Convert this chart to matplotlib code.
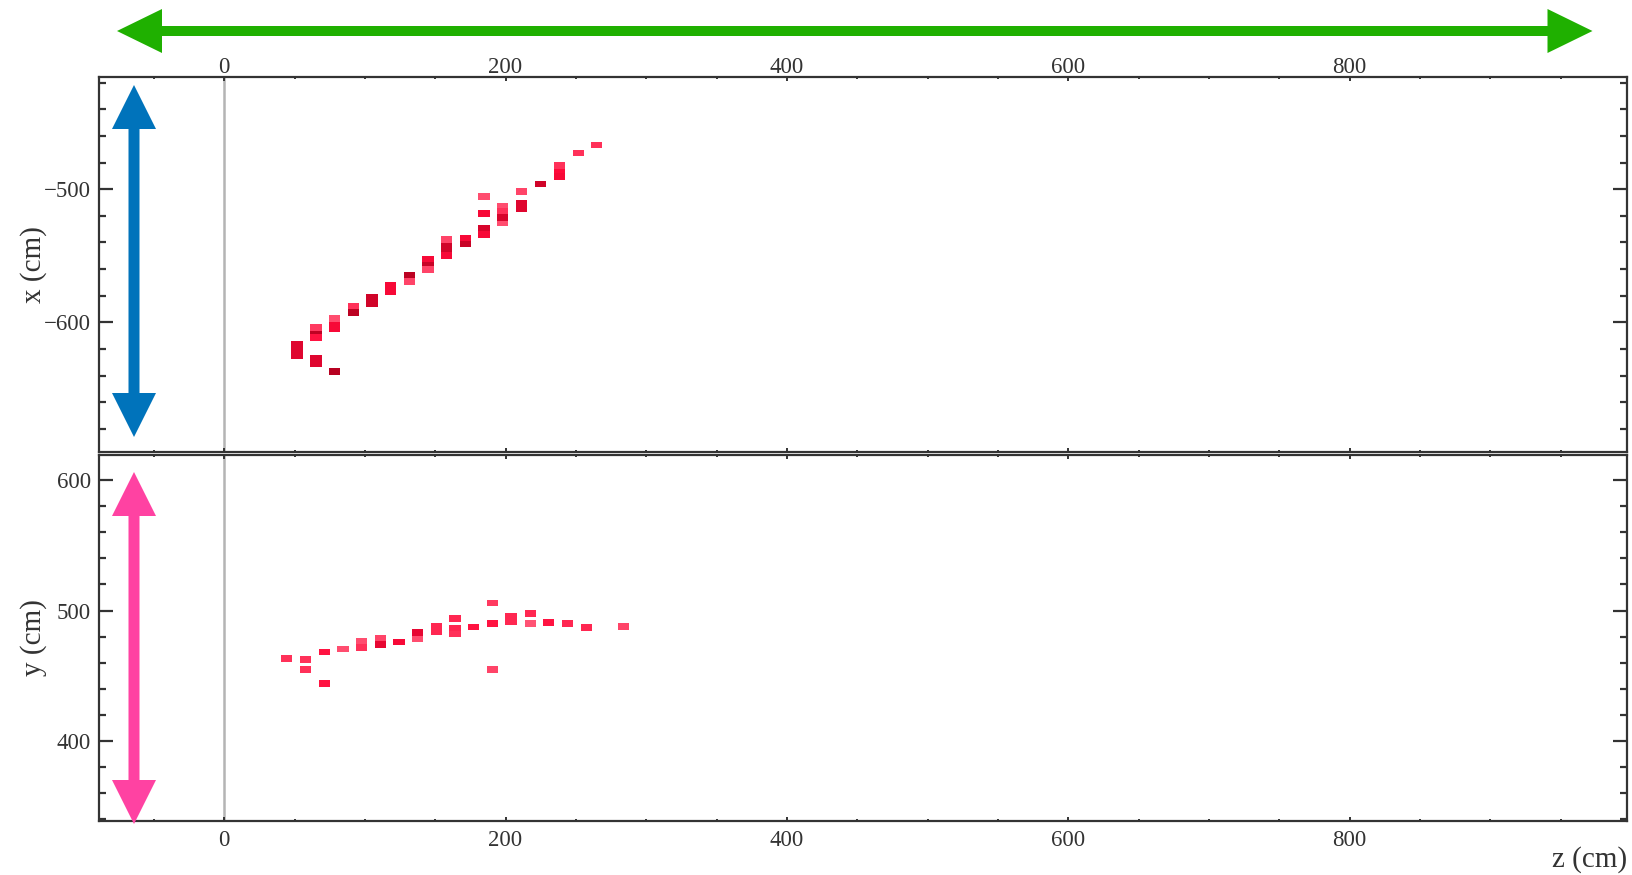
import matplotlib
matplotlib.use("Agg")
import matplotlib.pyplot as plt
from matplotlib.patches import Polygon
from matplotlib.colors import LinearSegmentedColormap
from matplotlib.ticker import MultipleLocator

plt.rcParams["font.family"] = ["Liberation Serif", "DejaVu Serif"]

# ---- hits in the x-z view: column z (cm), x (cm), relative charge ----
xz_z = [51.8, 51.8, 51.8,
        65.2, 65.2, 65.2, 65.2, 65.2,
        78.5, 78.5, 78.5, 78.5,
        91.7, 91.7,
        105.0, 105.0,
        118.3, 118.3,
        131.5, 131.5,
        144.8, 144.8, 144.8,
        158.0, 158.0, 158.0, 158.0,
        171.3, 171.3,
        184.6, 184.6, 184.6, 184.6,
        197.9, 197.9, 197.9, 197.9,
        211.2, 211.2, 211.2,
        225.0,
        238.2, 238.2, 238.2,
        251.6,
        264.9]
xz_x = [-616.6, -620.8, -624.9,
        -607.3, -603.8, -611.3, -627.1, -630.8,
        -597.3, -602.5, -605.0, -637.1,
        -588.2, -592.8,
        -581.2, -585.7,
        -572.4, -576.7,
        -569.2, -564.4,
        -556.3, -552.3, -560.1,
        -537.9, -543.0, -545.0, -549.9,
        -540.7, -536.6,
        -505.6, -518.3, -529.6, -534.0,
        -513.1, -516.5, -525.0, -521.1,
        -501.8, -510.3, -514.3,
        -496.2,
        -482.3, -487.6, -490.3,
        -472.9,
        -466.7]
xz_q = [0.70, 0.70, 0.70,
        0.90, 0.25, 0.45, 0.70, 0.70,
        0.15, 0.55, 0.55, 0.95,
        0.30, 0.92,
        0.80, 0.80,
        0.55, 0.55,
        0.20, 0.92,
        0.85, 0.55, 0.20,
        0.20, 0.80, 0.80, 0.55,
        0.85, 0.55,
        0.15, 0.55, 0.75, 0.55,
        0.15, 0.30, 0.15, 0.75,
        0.20, 0.70, 0.70,
        0.80,
        0.30, 0.50, 0.55,
        0.30,
        0.30]

# ---- hits in the y-z view: column z (cm), y (cm), relative charge ----
yz_z = [44.3,
        57.9, 57.9,
        71.1, 71.1,
        84.4,
        97.7, 97.7,
        110.9, 110.9,
        124.2,
        137.5, 137.5,
        150.7, 150.7,
        164.0, 164.0, 164.0,
        177.3,
        190.8, 190.8, 190.8,
        203.8, 203.8,
        217.5, 217.5,
        230.8,
        244.1,
        257.3,
        283.9]
yz_y = [463.4,
        462.6, 454.9,
        468.2, 443.9,
        470.5,
        476.5, 471.8,
        478.4, 474.2,
        475.9,
        478.4, 483.0,
        487.6, 483.5,
        494.0, 486.3, 482.0,
        487.4,
        505.7, 490.2, 454.9,
        495.3, 491.2,
        497.9, 489.9,
        491.0,
        489.9,
        487.1,
        487.9]
yz_q = [0.30,
        0.30, 0.30,
        0.45, 0.45,
        0.15,
        0.15, 0.30,
        0.20, 0.65,
        0.55,
        0.15, 0.65,
        0.35, 0.35,
        0.35, 0.35, 0.30,
        0.45,
        0.25, 0.45, 0.20,
        0.35, 0.35,
        0.35, 0.12,
        0.45,
        0.35,
        0.35,
        0.20]

# axis ranges and ticks
z_lim = (-89, 997)
x_lim = (-697, -415.5)
y_lim = (339, 619.5)
z_major, z_minor = 200, 50
v_major, v_minor = 100, 20

CELL_DZ = 8.0
CELL_DX = 5.0
CELL_DY = 5.2

hit_cmap = LinearSegmentedColormap.from_list(
    "hits", ["#ff6a86", "#ff0a3a", "#b0001e"])

INK = "#333333"
FS_TICK = 16.5
FS_LABEL = 21

fig = plt.figure(figsize=(16.32, 8.75), dpi=100)
W, H = 1632.0, 875.0


def px_axes(left, top, right, bottom):
    return fig.add_axes([left / W, 1 - bottom / H, (right - left) / W,
                         (bottom - top) / H])


ax_x = px_axes(99, 76.7, 1626.7, 451.5)
ax_y = px_axes(99, 454.5, 1626.7, 820.7)


def style(ax, ylim, top_labels):
    ax.set_xlim(*z_lim)
    ax.set_ylim(*ylim)
    for s in ax.spines.values():
        s.set_color(INK)
        s.set_linewidth(1.6)
    ax.xaxis.set_major_locator(MultipleLocator(z_major))
    ax.xaxis.set_minor_locator(MultipleLocator(z_minor))
    ax.yaxis.set_major_locator(MultipleLocator(v_major))
    ax.yaxis.set_minor_locator(MultipleLocator(v_minor))
    ax.tick_params(axis="both", which="both", direction="in", colors=INK,
                   top=True, bottom=True, left=True, right=True,
                   labelsize=FS_TICK)
    ax.tick_params(axis="y", which="major", length=10, width=1.6, pad=6)
    ax.tick_params(axis="y", which="minor", length=5, width=1.6)
    ax.tick_params(axis="x", which="major", length=3, width=1.4)
    ax.tick_params(axis="x", which="minor", length=1.6, width=1.4)
    if top_labels:
        ax.tick_params(axis="x", labeltop=True, labelbottom=False, pad=-1.2)
    else:
        ax.tick_params(axis="x", labeltop=False, labelbottom=True, pad=6.5)
    ax.axvline(0, color="#b4b4b4", lw=1.8, zorder=1)


style(ax_x, x_lim, True)
style(ax_y, y_lim, False)

# hit cells
for z, v, q in zip(xz_z, xz_x, xz_q):
    ax_x.bar(z, CELL_DX, bottom=v - CELL_DX / 2, width=CELL_DZ,
             color=hit_cmap(q), linewidth=0, zorder=3)
for z, v, q in zip(yz_z, yz_y, yz_q):
    ax_y.bar(z, CELL_DY, bottom=v - CELL_DY / 2, width=CELL_DZ,
             color=hit_cmap(q), linewidth=0, zorder=3)

ax_x.set_ylabel("x (cm)", fontsize=FS_LABEL, color=INK)
ax_y.set_ylabel("y (cm)", fontsize=FS_LABEL, color=INK)
ax_x.yaxis.set_label_coords(-0.034, 0.5)
ax_y.yaxis.set_label_coords(-0.034, 0.5)
ax_y.set_xlabel("z (cm)", fontsize=FS_LABEL, color=INK, loc="right",
                labelpad=-3)

# direction arrows drawn on a pixel-space overlay
ov = fig.add_axes([0, 0, 1, 1], zorder=10)
ov.set_xlim(0, W)
ov.set_ylim(H, 0)
ov.axis("off")
ov.patch.set_alpha(0)


def double_arrow(x0, y0, x1, y1, width, head_w, head_l, color):
    L = ((x1 - x0) ** 2 + (y1 - y0) ** 2) ** 0.5
    ux, uy = (x1 - x0) / L, (y1 - y0) / L
    nx, ny = -uy, ux

    def pt(bx, by, along, side):
        return (bx + along * ux + side * nx, by + along * uy + side * ny)

    pts = [
        (x0, y0),
        pt(x0, y0, head_l, head_w / 2),
        pt(x0, y0, head_l, width / 2),
        pt(x1, y1, -head_l, width / 2),
        pt(x1, y1, -head_l, head_w / 2),
        (x1, y1),
        pt(x1, y1, -head_l, -head_w / 2),
        pt(x1, y1, -head_l, -width / 2),
        pt(x0, y0, head_l, -width / 2),
        pt(x0, y0, head_l, -head_w / 2),
    ]
    ov.add_patch(Polygon(pts, closed=True, color=color, lw=0))


double_arrow(117, 31, 1592.5, 31, 10, 44, 45, "#1fb000")
double_arrow(134, 85, 134, 437, 11, 44, 44, "#0073bb")
double_arrow(134, 472, 134, 824, 11, 44, 44, "#ff42a2")

fig.savefig("out.png", dpi=100)
